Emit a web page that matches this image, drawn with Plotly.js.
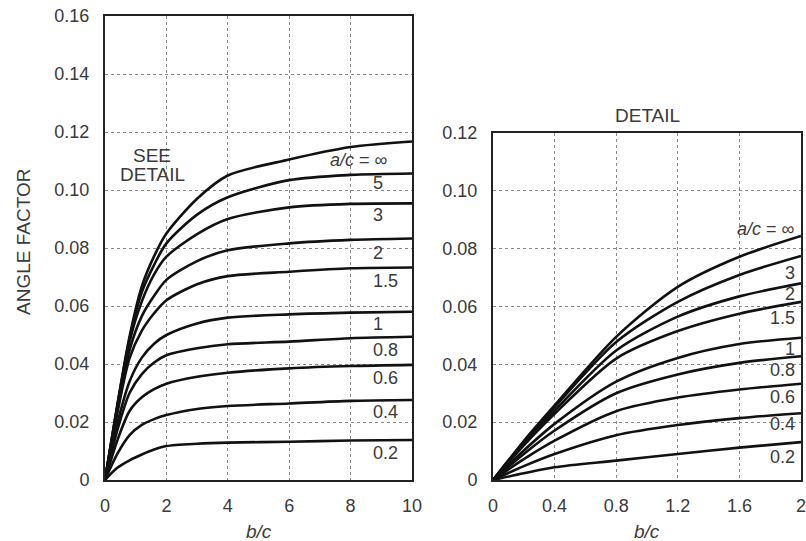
<!DOCTYPE html>
<html>
<head>
<meta charset="utf-8">
<script src="https://cdn.plot.ly/plotly-3.0.1.min.js"></script>
<style>html,body{margin:0;padding:0;background:#fff;}#chart{width:806px;height:541px;}</style>
</head>
<body>
<div id="chart"></div>
<script>
// ---- Data ----
const seriesNames = ["∞", "5", "3", "2", "1.5", "1", "0.8", "0.6", "0.4", "0.2"];

// Main chart: angle factor vs b/c (0..10)
const xMain = [0, 0.4, 0.8, 1.2, 1.6, 2, 3, 4, 6, 8, 10];
const mainInf = [0, 0.0258, 0.0495, 0.0668, 0.0772, 0.085, 0.097, 0.105, 0.1105, 0.1148, 0.1167];
const main5   = [0, 0.0255, 0.0487, 0.0648, 0.0742, 0.0816, 0.0915, 0.0975, 0.1034, 0.1052, 0.1057];
const main3   = [0, 0.0252, 0.0477, 0.0616, 0.0709, 0.077, 0.0848, 0.0900, 0.094, 0.0952, 0.0954];
const main2   = [0, 0.024, 0.0448, 0.0565, 0.0635, 0.069, 0.0755, 0.0792, 0.0816, 0.0828, 0.0833];
const main15  = [0, 0.0229, 0.042, 0.0515, 0.0575, 0.062, 0.0675, 0.0703, 0.0718, 0.073, 0.0733];
const main1   = [0, 0.0194, 0.034, 0.0422, 0.047, 0.050, 0.054, 0.056, 0.0571, 0.0577, 0.058];
const main08  = [0, 0.0171, 0.030, 0.0365, 0.0405, 0.043, 0.0454, 0.0468, 0.0477, 0.0489, 0.0494];
const main06  = [0, 0.0136, 0.0238, 0.0285, 0.0313, 0.0332, 0.0356, 0.037, 0.0385, 0.0393, 0.0397];
const main04  = [0, 0.009, 0.0155, 0.019, 0.021, 0.0224, 0.0245, 0.0255, 0.0264, 0.0273, 0.0276];
const main02  = [0, 0.0042, 0.0068, 0.0088, 0.0105, 0.0117, 0.0125, 0.0129, 0.0132, 0.0136, 0.0138];
const mainSeries = [mainInf, main5, main3, main2, main15, main1, main08, main06, main04, main02];

// Detail chart: b/c 0..2
const detailNames = ["∞", "3", "2", "1.5", "1", "0.8", "0.6", "0.4", "0.2"];
const xDetail = [0, 0.2, 0.4, 0.8, 1.2, 1.6, 2];
const detInf = [0, 0.0135, 0.0258, 0.0495, 0.0668, 0.0772, 0.0844];
const det3   = [0, 0.013, 0.0252, 0.0477, 0.0616, 0.0709, 0.0775];
const det2   = [0, 0.0125, 0.024, 0.0448, 0.0565, 0.0635, 0.068];
const det15  = [0, 0.012, 0.0229, 0.042, 0.0515, 0.0575, 0.0616];
const det1   = [0, 0.0102, 0.0194, 0.034, 0.0422, 0.047, 0.0492];
const det08  = [0, 0.009, 0.0171, 0.030, 0.0365, 0.0405, 0.0428];
const det06  = [0, 0.0072, 0.0136, 0.0238, 0.0285, 0.0313, 0.0333];
const det04  = [0, 0.0048, 0.009, 0.0155, 0.019, 0.0214, 0.0231];
const det02  = [0, 0.0023, 0.0044, 0.0067, 0.009, 0.0112, 0.0131];
const detailSeries = [detInf, det3, det2, det15, det1, det08, det06, det04, det02];

// Tick labels
const mainXTicks = [0, 2, 4, 6, 8, 10];
const mainXText = ["0", "2", "4", "6", "8", "10"];
const mainYTicks = [0, 0.02, 0.04, 0.06, 0.08, 0.10, 0.12, 0.14, 0.16];
const mainYText = ["0", "0.02", "0.04", "0.06", "0.08", "0.10", "0.12", "0.14", "0.16"];
const detXTicks = [0, 0.4, 0.8, 1.2, 1.6, 2];
const detXText = ["0", "0.4", "0.8", "1.2", "1.6", "2"];
const detYTicks = [0, 0.02, 0.04, 0.06, 0.08, 0.10, 0.12];
const detYText = ["0", "0.02", "0.04", "0.06", "0.08", "0.10", "0.12"];

// ---- Build ----
const W = 806, H = 541;
const FONT = "Liberation Sans, Arial, sans-serif";
const TXT = "#3a3a3a";
const lineStyle = {color: "#111", width: 2.6, shape: "spline", smoothing: 0.8};

const traces = [];
mainSeries.forEach((ys, i) => {
  traces.push({x: xMain, y: ys, type: "scatter", mode: "lines", name: "a/c = " + seriesNames[i],
    line: lineStyle, xaxis: "x", yaxis: "y", showlegend: false, hoverinfo: "skip"});
});
detailSeries.forEach((ys, i) => {
  traces.push({x: xDetail, y: ys, type: "scatter", mode: "lines", name: "a/c = " + detailNames[i],
    line: lineStyle, xaxis: "x2", yaxis: "y2", showlegend: false, hoverinfo: "skip"});
});

function axisBase() {
  return {
    showgrid: true, gridcolor: "#8a8a8a", gridwidth: 1, griddash: "dot",
    showline: true, linecolor: "#222", linewidth: 2, mirror: true,
    zeroline: false, ticks: "", automargin: false, fixedrange: true,
    ticklabeloverflow: "allow",
    tickfont: {family: FONT, size: 18, color: TXT}
  };
}

const xaxis = Object.assign(axisBase(), {domain: [105 / W, 412 / W], range: [0, 10],
  tickmode: "array", tickvals: mainXTicks, ticktext: mainXText, anchor: "y", ticklabelstandoff: 8});
const yaxis = Object.assign(axisBase(), {domain: [1 - 480 / H, 1 - 16 / H], range: [0, 0.16],
  tickmode: "array", tickvals: mainYTicks, ticktext: mainYText, anchor: "x", ticklabelstandoff: 10});
const xaxis2 = Object.assign(axisBase(), {domain: [493 / W, 801 / W], range: [0, 2],
  tickmode: "array", tickvals: detXTicks, ticktext: detXText, anchor: "y2", ticklabelstandoff: 8});
const yaxis2 = Object.assign(axisBase(), {domain: [1 - 480 / H, 1 - 133 / H], range: [0, 0.12],
  tickmode: "array", tickvals: detYTicks, ticktext: detYText, anchor: "x2", ticklabelstandoff: 10});

const annotations = [];
const labFont = {family: FONT, size: 18, color: TXT};

// Curve labels on main chart (under the right end of each curve)
const mainShift = [-18, -10, -12, -15, -14, -12, -13, -13, -12, -13];
mainSeries.forEach((ys, i) => {
  const isInf = i === 0;
  annotations.push({
    xref: "x", yref: "y", x: xMain[xMain.length - 1], y: ys[ys.length - 1],
    text: isInf ? "<i>a/c</i> = ∞" : seriesNames[i],
    showarrow: false, xanchor: isInf ? "right" : "left", yanchor: "middle",
    xshift: isInf ? -22 : -41, yshift: mainShift[i], font: labFont
  });
});

// Curve labels on detail chart
const detShift = [7, -17, -11, -16, -11, -14, -13, -11, -15];
detailSeries.forEach((ys, i) => {
  const isInf = i === 0;
  annotations.push({
    xref: "x2", yref: "y2", x: xDetail[xDetail.length - 1], y: ys[ys.length - 1],
    text: isInf ? "<i>a/c</i> = ∞" : detailNames[i],
    showarrow: false, xanchor: "right", yanchor: "middle",
    xshift: -4, yshift: detShift[i], font: labFont
  });
});

// Titles and notes
const titleFont = {family: FONT, size: 19, color: TXT};
annotations.push({xref: "paper", yref: "paper", x: 23 / W, y: 1 - 242 / H, text: "ANGLE FACTOR",
  textangle: -90, showarrow: false, xanchor: "center", yanchor: "middle", font: titleFont});
annotations.push({xref: "paper", yref: "paper", x: 259 / W, y: 1 - 531 / H, text: "<i>b/c</i>",
  showarrow: false, xanchor: "center", yanchor: "middle", font: titleFont});
annotations.push({xref: "paper", yref: "paper", x: 647 / W, y: 1 - 531 / H, text: "<i>b/c</i>",
  showarrow: false, xanchor: "center", yanchor: "middle", font: titleFont});
annotations.push({xref: "paper", yref: "paper", x: 647 / W, y: 1 - 115 / H, text: "DETAIL",
  showarrow: false, xanchor: "center", yanchor: "middle", font: titleFont});
annotations.push({xref: "paper", yref: "paper", x: 152 / W, y: 1 - 155 / H, text: "SEE",
  showarrow: false, xanchor: "center", yanchor: "middle", font: titleFont});
annotations.push({xref: "paper", yref: "paper", x: 152 / W, y: 1 - 174 / H, text: "DETAIL",
  showarrow: false, xanchor: "center", yanchor: "middle", font: titleFont});

const layout = {
  width: W, height: H,
  margin: {l: 0, r: 0, t: 0, b: 0, pad: 0},
  paper_bgcolor: "#fff", plot_bgcolor: "#fff",
  showlegend: false,
  font: {family: FONT, color: TXT},
  xaxis: xaxis, yaxis: yaxis, xaxis2: xaxis2, yaxis2: yaxis2,
  annotations: annotations
};

Plotly.newPlot("chart", traces, layout, {staticPlot: true, displayModeBar: false});
</script>
</body>
</html>
